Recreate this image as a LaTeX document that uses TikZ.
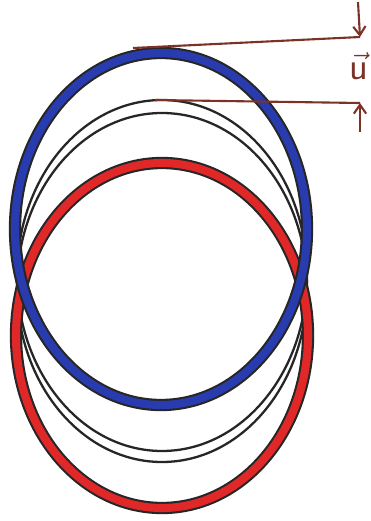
\documentclass[tikz,border=0pt]{standalone}
\usepackage{fontspec}
\usetikzlibrary{arrows.meta}
\definecolor{ink}{RGB}{125,50,40}
\definecolor{bluepen}{RGB}{40,60,175}
\definecolor{redpen}{RGB}{225,40,40}
\begin{document}
\begin{tikzpicture}[x=0.02cm,y=-0.02cm,
  outline/.style={draw=black!85,line width=7pt},
  thinring/.style={draw=black!85,line width=1.3pt},
  vecline/.style={draw=ink,line width=1.2pt},
  vecarrow/.style={draw=ink,line width=1.2pt,-{Straight Barb[length=5pt,width=7pt]}}]
\useasboundingbox (0,0) rectangle (370,521);
% thin rings
\draw[thinring] (162,275.5) ellipse [x radius=145,y radius=175.5];
\draw[thinring] (162,287.5) ellipse [x radius=145,y radius=174.5];
% red ring
\draw[outline] (162,335.5) ellipse [x radius=146,y radius=172.5];
\draw[redpen,line width=4.6pt] (162,335.5) ellipse [x radius=146,y radius=172.5];
% blue ring
\draw[outline] (161,229) ellipse [x radius=146,y radius=176];
\draw[bluepen,line width=4.6pt] (161,229) ellipse [x radius=146,y radius=176];
% displacement marks
\coordinate (t1) at (133,48);
\coordinate (e1) at (360,37);
\coordinate (t2) at (155,100);
\coordinate (e2) at (360,103);
\coordinate (a1) at (358,2);
\coordinate (a2) at (360,132);
\draw[vecline] (t1) -- (e1);
\draw[vecline] (t2) -- (e2);
\draw[vecarrow] (a1) -- (e1);
\draw[vecarrow] (a2) -- (e2);
\node[text=ink,font=\fontsize{22}{22}\selectfont,inner sep=0pt] (u) at (359,66) {$\vec{\mathsf{u}}$};
\end{tikzpicture}
\end{document}
